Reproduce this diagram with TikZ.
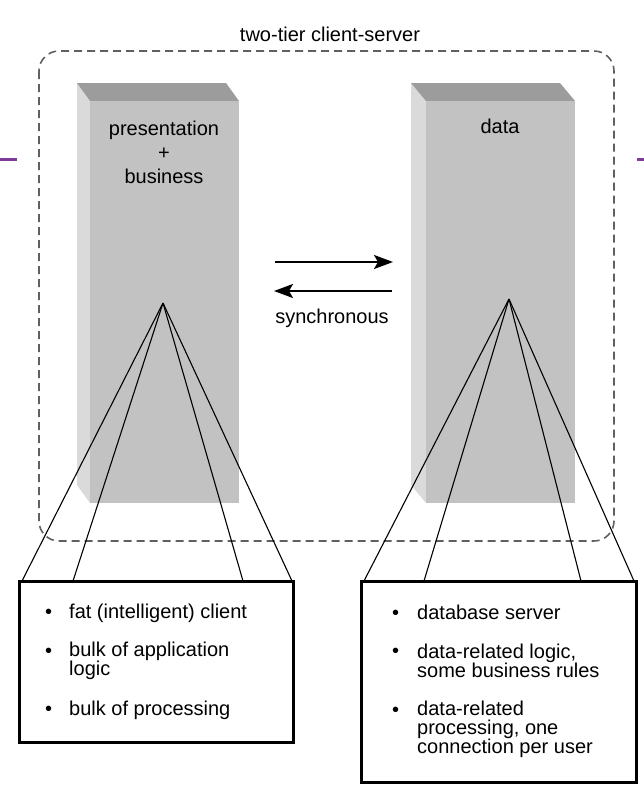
\documentclass[tikz,border=0pt]{standalone}
\usepackage{fontspec}
\setmainfont{Liberation Sans}
\usetikzlibrary{arrows.meta}

\definecolor{frontgray}{HTML}{C2C2C2}
\definecolor{topgray}{HTML}{9C9C9C}
\definecolor{sidegray}{HTML}{DADADA}
\definecolor{edgepurple}{HTML}{7E3C96}

\tikzset{
  lbl/.style={inner sep=0pt, font=\fontsize{20}{24}\selectfont},
  item/.style={inner sep=0pt, anchor=base west, align=left,
    font=\fontsize{20}{19}\selectfont},
  listbox/.style={draw, line width=3pt, fill=white},
  fan/.style={line width=1.1pt},
  flow/.style={line width=2pt, -{Stealth[length=19pt,width=14pt,inset=4pt]}}
}

\begin{document}
\begin{tikzpicture}[x=1pt,y=-1pt]
  \useasboundingbox (0,0) rectangle (644,804);

  % frame
  \draw[line width=1.6pt, gray!75!black, dash pattern=on 8pt off 5pt,
        rounded corners=20pt] (39,51) rectangle (614,541);
  \node[lbl, anchor=base] (title) at (330,41) {two-tier client-server};
  \draw[edgepurple, line width=3pt] (0,159) -- (17,159);
  \draw[edgepurple, line width=3pt] (637,159) -- (644,159);

  % columns
  \fill[sidegray] (77,83) -- (90,101) -- (90,503) -- (77,485) -- cycle;
  \fill[topgray] (77,83) -- (226,83) -- (239,101) -- (90,101) -- cycle;
  \fill[frontgray] (90,101) rectangle (239,503);
  \fill[sidegray] (411,83) -- (426,101) -- (426,503) -- (411,485) -- cycle;
  \fill[topgray] (411,83) -- (560,83) -- (575,101) -- (426,101) -- cycle;
  \fill[frontgray] (426,101) rectangle (575,503);

  \node[lbl, anchor=base, align=center] (client) at (164,183) {presentation\\+\\business};
  \node[lbl, anchor=base] (server) at (500,133) {data};

  % messages
  \coordinate (cr) at (275,262);
  \coordinate (sr) at (393,262);
  \coordinate (sl) at (392,291);
  \coordinate (cl) at (274,291);
  \draw[flow] (cr) -- (sr);
  \draw[flow] (sl) -- (cl);
  \node[lbl, anchor=base] (sync) at (332,323) {synchronous};

  % fans
  \coordinate (lapex) at (163,303);
  \coordinate (rapex) at (509,299);
  \foreach \x in {22,73,243,292} \draw[fan] (lapex) -- (\x,581);
  \foreach \x in {364,424,581,634} \draw[fan] (rapex) -- (\x,581);

  % lists
  \node[listbox, minimum width=274pt, minimum height=161pt] (lbox) at (156,661.5) {};
  \node[listbox, minimum width=275pt, minimum height=201pt] (rbox) at (498.5,681.5) {};

  \node[item] (l1) at (69,618) {fat (intelligent) client};
  \node[item] (l2) at (69,675) {bulk of application\\logic};
  \node[item] (l3) at (69,715) {bulk of processing};
  \foreach \y in {618,657,715} \node[item] at (45,\y) {\textbullet};

  \node[item] (r1) at (417,619) {database server};
  \node[item] (r2) at (417,677) {data-related logic,\\some business rules};
  \node[item] (r3) at (417,753) {data-related\\processing, one\\connection per user};
  \foreach \y in {619,657,716} \node[item] at (392,\y) {\textbullet};
\end{tikzpicture}
\end{document}
